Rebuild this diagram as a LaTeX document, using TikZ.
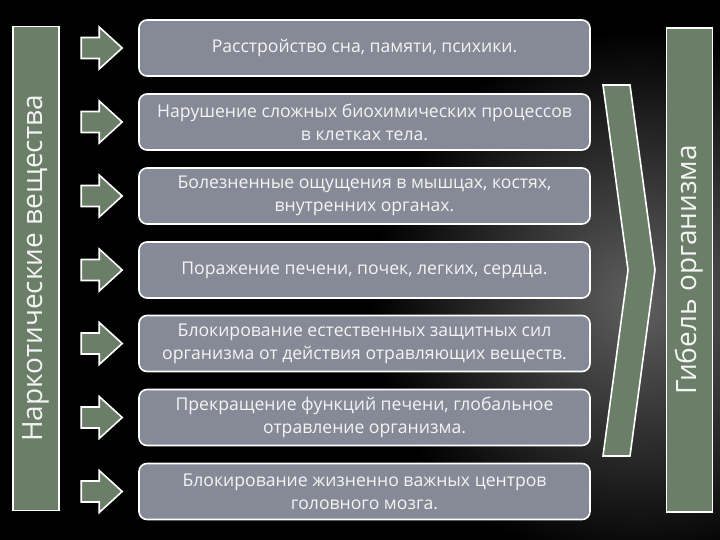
\documentclass[tikz,border=0pt]{standalone}
\usepackage{fontspec}
\setmainfont{Open Sans}
\definecolor{boxgray}{HTML}{868A96}
\definecolor{sage}{HTML}{6A7E68}
\definecolor{txt}{HTML}{F4F4F4}
\begin{document}
\begin{tikzpicture}[x=1pt,y=-1pt,
  box/.style={draw=white, line width=1.6pt, fill=boxgray, rounded corners=8pt,
    minimum width=451pt, minimum height=56pt, text=txt, align=center,
    font=\fontsize{17.6}{23}\selectfont, inner sep=0pt},
  bar/.style={draw=white, line width=1.8pt, fill=sage, rotate=90,
    minimum width=484pt, minimum height=46pt, inner sep=0pt, text=txt,
    font=\fontsize{28}{32}\selectfont},
  blk/.style={draw=white, line width=1.6pt, fill=sage, line join=miter}]
\useasboundingbox (0,0) rectangle (720,540);
\fill[black] (0,0) rectangle (720,540);
\shade[inner color=gray!75!black, outer color=black] (640,300) circle (270pt);
% side bars
\node[bar] (L) at (36,268.5) {Наркотические вещества};
\node[bar] (R) at (689.5,270) {Гибель организма};
% chevron
\draw[blk] (603,85) -- (630,85) -- (655,270) -- (630,456) -- (603,456) -- (628,270) -- cycle;
% boxes
\node[box] (b1) at (364.5,48) {Расстройство сна, памяти, психики.};
\node[box] (b2) at (364.5,122) {Нарушение сложных биохимических процессов\\в клетках тела.};
\node[box] (b3) at (364.5,196) {Болезненные ощущения в мышцах, костях,\\внутренних органах.};
\node[box] (b4) at (364.5,270) {Поражение печени, почек, легких, сердца.};
\node[box] (b5) at (364.5,343.5) {Блокирование естественных защитных сил\\организма от действия отравляющих веществ.};
\node[box] (b6) at (364.5,417.5) {Прекращение функций печени, глобальное\\отравление организма.};
\node[box] (b7) at (364.5,491.5) {Блокирование жизненно важных центров\\головного мозга.};
% block arrows
\foreach \i in {1,...,7}{
  \path (b\i.west) ++(-16,0) coordinate (t\i);
  \draw[blk] (t\i) ++(-41,-10.5) -- ++(18,0) -- ++(0,-10.5) -- (t\i) -- ++(-23,21)
    -- ++(0,-10.5) -- ++(-18,0) -- cycle;
}
\end{tikzpicture}
\end{document}
